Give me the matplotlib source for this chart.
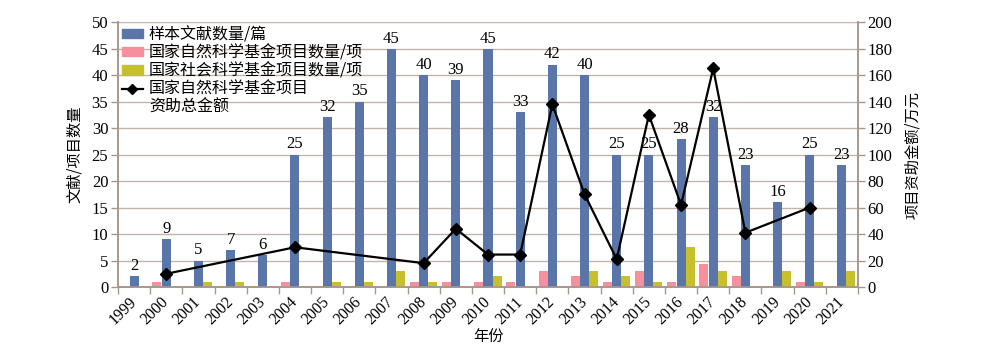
import numpy as np
import matplotlib
matplotlib.use('Agg')
import matplotlib.pyplot as plt
import matplotlib.transforms as mtransforms
from matplotlib.patches import Patch
from matplotlib.lines import Line2D

plt.rcParams['font.family'] = ['Liberation Serif', 'Noto Sans CJK SC']
plt.rcParams['axes.unicode_minus'] = False

# Data
years = [str(y) for y in range(1999, 2022)]
papers = [2, 9, 5, 7, 6, 25, 32, 35, 45, 40, 39, 45, 33, 42, 40, 25, 25, 28, 32, 23, 16, 25, 23]
nsfc_count = [0, 1, 0, 0, 0, 1, 0, 0, 0, 1, 1, 1, 1, 3, 2, 1, 3, 1, 4.4, 2, 0, 1, 0]
nssfc_count = [0, 0, 1, 1, 0, 0, 1, 1, 3, 1, 0, 2, 0, 0, 3, 2, 1, 7.6, 3, 0, 3, 1, 3]
# funding (万元), None where no value
funding = [None, 10, None, None, None, 30, None, None, None, 18, 44, 24.5, 24.5,
           138, 70, 21, 130, 62, 165, 41, None, 60, None]

blue = '#5a76a8'
pink = '#f4919c'
yellow = '#c7c02e'
grid_c = '#c2b3ab'
spine_c = '#a8968e'
cjk = ['Noto Sans CJK SC', 'DejaVu Sans']

x = np.arange(len(years))
w = 0.28

fig = plt.figure(figsize=(10, 3.46), dpi=100)
ax = fig.add_axes([0.118, 0.1705, 0.740, 0.7655])
ax2 = ax.twinx()

ax.bar(x - 0.29, nsfc_count, w, color=pink, zorder=3)
ax.bar(x, papers, w, color=blue, zorder=3)
ax.bar(x + 0.28, nssfc_count, w, color=yellow, zorder=3)

for xi, v in zip(x, papers):
    ax.text(xi, v + 0.4, str(v), ha='center', va='bottom', fontsize=12,
            family='Liberation Serif', zorder=4)

fx = [xi for xi, f in zip(x, funding) if f is not None]
fy = [f for f in funding if f is not None]
ax2.plot(fx, fy, color='black', lw=1.6, marker='D', markersize=6.5, zorder=5)

ax.set_xlim(-0.5, len(years) - 0.5)
ax.set_ylim(0, 50)
ax2.set_ylim(0, 200)
ax.set_yticks(np.arange(0, 51, 5))
ax2.set_yticks(np.arange(0, 201, 20))
ax.yaxis.grid(True, color=grid_c, lw=1.0, zorder=0)
ax.set_axisbelow(True)

ax.set_xticks(x)
ax.set_xticklabels(years, rotation=45, ha='right', va='center',
                   rotation_mode='anchor', fontsize=11.5)
shift = mtransforms.ScaledTranslation(4 / 100, 0, fig.dpi_scale_trans)
for lbl in ax.get_xticklabels():
    lbl.set_transform(lbl.get_transform() + shift)
ax.tick_params(axis='x', which='major', length=0, pad=9)
ax.set_xticks(np.arange(-0.5, len(years), 1), minor=True)
ax.tick_params(axis='x', which='minor', length=5, color=spine_c, width=1)

ax.tick_params(axis='y', labelsize=12, length=5, color=spine_c, width=1, pad=2)
ax2.tick_params(axis='y', labelsize=12, length=5, color=spine_c, width=1, pad=2)

for a in (ax, ax2):
    a.spines['top'].set_visible(False)
    for s in ('left', 'right', 'bottom'):
        a.spines[s].set_color(spine_c)
        a.spines[s].set_linewidth(1.2)

ax.set_ylabel('文献/项目数量', family=cjk, fontsize=11, labelpad=6)
ax2.set_ylabel('项目资助金额/万元', family=cjk, fontsize=11, labelpad=8)
ax.set_xlabel('年份', family=cjk, fontsize=11, labelpad=0)

handles = [Patch(color=blue), Patch(color=pink), Patch(color=yellow),
           Line2D([], [], color='black', lw=1.6, marker='D', markersize=5),
           Line2D([], [], color='none')]
labels = ['样本文献数量/篇', '国家自然科学基金项目数量/项',
          '国家社会科学基金项目数量/项', '国家自然科学基金项目', '资助总金额']
leg = ax2.legend(handles, labels, loc='upper left', bbox_to_anchor=(0.0, 1.0),
                 frameon=False, prop={'family': cjk, 'size': 11.5},
                 handlelength=1.3, handleheight=0.5, handletextpad=0.38,
                 labelspacing=0.08, borderaxespad=0.1, borderpad=0.15)

fig.savefig('out.png', dpi=100)
